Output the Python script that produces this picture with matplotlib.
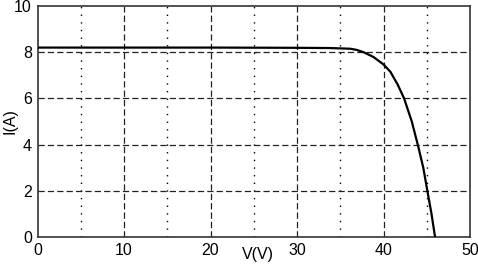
import matplotlib
matplotlib.use("Agg")
import matplotlib.pyplot as plt

# I-V curve
voltage = [0, 10, 20, 30, 33.8, 36.15, 36.9, 37.7, 38.85, 40.0, 40.8, 41.65, 42.38, 43.27, 43.96, 44.6, 45.07, 45.55, 45.96]
current = [8.2, 8.2, 8.2, 8.19, 8.18, 8.15, 8.10, 8.0, 7.79, 7.47, 7.15, 6.59, 6.0, 5.0, 4.0, 3.0, 2.0, 1.0, 0.0]

x_major = [0, 10, 20, 30, 40, 50]
x_minor = [5, 15, 25, 35, 45]
y_major = [0, 2, 4, 6, 8, 10]

plt.rcParams['font.family'] = ['Liberation Sans', 'DejaVu Sans']

fig = plt.figure(figsize=(4.78, 2.65), dpi=100)
ax = fig.add_axes([37.5 / 478, 1 - 237 / 265, 432.5 / 478, 231 / 265])

# grid: dashed at major ticks, dotted at the halves on x
for x in x_major[1:-1]:
    ax.axvline(x, color='#222222', lw=0.9, ls=(0, (5, 2.5)), zorder=1)
for x in x_minor:
    ax.axvline(x, color='black', lw=1.0, ls=(0, (1, 4.5)), zorder=1)
for y in y_major[1:-1]:
    ax.axhline(y, color='#222222', lw=0.9, ls=(0, (5, 2.5)), zorder=1)

ax.plot(voltage, current, color='black', lw=1.6, zorder=3)

ax.set_xlim(0, 50)
ax.set_ylim(0, 10)
ax.set_xticks(x_major)
ax.set_yticks(y_major)
ax.tick_params(length=0, labelsize=11.5, pad=4)
for s in ax.spines.values():
    s.set_color('#333333')
    s.set_linewidth(1.2)

ax.set_xlabel('V(V)', fontsize=11.5)
ax.xaxis.set_label_coords(0.51, -0.042)
ax.set_ylabel('I(A)', fontsize=11.5)
ax.yaxis.set_label_coords(-0.047, 0.5)

plt.savefig('out.png', dpi=100)
plt.close()
